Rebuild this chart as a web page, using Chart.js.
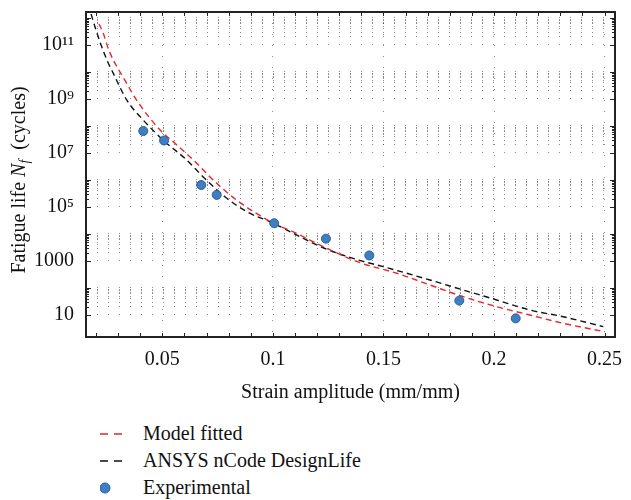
<!DOCTYPE html>
<html>
<head>
<meta charset="utf-8">
<script src="https://cdn.jsdelivr.net/npm/chart.js@4.4.1/dist/chart.umd.min.js"></script>
<style>
    body { margin: 0; background: #fff; }
    #wrap { position: relative; width: 631px; height: 500px; }
    #box { position: absolute; left: 0; top: 0; width: 631px; height: 405px; }
    #legend { position: absolute; left: 100px; top: 420px; list-style: none; margin: 0; padding: 0;
              font: 20px "Liberation Serif", serif; color: #111; }
    #legend li { display: flex; align-items: center; height: 27px; }
    #legend svg { width: 24px; height: 12px; margin-right: 19px; flex: none; }
</style>
</head>
<body>
<div id="wrap">
    <div id="box"><canvas id="fatigueChart"></canvas></div>
    <ul id="legend"></ul>
</div>
<script>
// experimental points
const expStrain = [0.0414, 0.0508, 0.0676, 0.0746, 0.1006, 0.124, 0.1436, 0.1843, 0.2098];
const expLife = [6.5e7, 2.9e7, 6.5e5, 2.8e5, 2.5e4, 6.7e3, 1.6e3, 34, 7.5];

// fitted model curve (red)
const modelStrain = [0.0214, 0.0233, 0.0258, 0.0339, 0.0384, 0.049, 0.0557, 0.064, 0.0746, 0.0836, 0.1002,
    0.1092, 0.1243, 0.1394, 0.156, 0.171, 0.1861, 0.2012, 0.2162, 0.2313, 0.2501];
const modelLife = [6e11, 2.7e11, 6.5e10, 3.8e9, 9e8, 7.1e7, 2.3e7, 5.5e6, 7.5e5, 1.8e5, 2.5e4,
    1.2e4, 2.95e3, 865, 350, 129, 47.6, 20.3, 10, 4.9, 2.4];

// ANSYS nCode DesignLife curve (black)
const ansysStrain = [0.0178, 0.02, 0.0223, 0.0254, 0.0278, 0.0339, 0.0407, 0.0504, 0.061, 0.0685, 0.0783, 0.0882,
    0.1002, 0.1092, 0.1183, 0.1273, 0.1386, 0.1499, 0.171, 0.1861, 0.2012, 0.2162, 0.2313, 0.2494];
const ansysLife = [1.4e12, 3.6e11, 1.0e11, 2.3e10, 9.0e9, 9.2e8, 1.9e8, 3.0e7, 5.5e6, 1.3e6, 2.4e5, 6.7e4,
    2.5e4, 1.06e4, 4.5e3, 2.2e3, 1.09e3, 615, 198, 84, 36, 15.3, 8.6, 3.7];

const xLabelTicks = [0.05, 0.1, 0.15, 0.2, 0.25];
const xMinorTicks = [0.02, 0.03, 0.04, 0.05, 0.06, 0.07, 0.08, 0.09, 0.1, 0.11, 0.12, 0.13, 0.14,
    0.15, 0.16, 0.17, 0.18, 0.19, 0.2, 0.21, 0.22, 0.23, 0.24, 0.25];
const yLabelTicks = [10, 1e3, 1e5, 1e7, 1e9, 1e11];
const yTickLabels = ["10", "1000", "10\u2075", "10\u2077", "10\u2079", "10\u00b9\u00b9"];
const yMinorSteps = [2, 3, 4, 5, 6, 7, 8, 9, 10];

const FONT = '"Liberation Serif", "Times New Roman", serif';
const INK = "#111";
const GRID = "rgba(0, 0, 0, 0.45)";

const yGridValues = yLabelTicks.flatMap((v) => [v, ...yMinorSteps.map((m) => m * v)]);
const toPoints = (xs, ys) => xs.map((x, i) => ({ x, y: ys[i] }));

// box, inward tick marks and the y title with italic N_f
const framePlugin = {
    id: "frame",
    afterDraw(chart) {
        const { ctx, chartArea: a, scales } = chart;
        ctx.save();
        ctx.strokeStyle = "#222";
        ctx.lineWidth = 1;
        ctx.beginPath();
        xMinorTicks.forEach((v) => {
            const px = Math.round(scales.x.getPixelForValue(v)) + 0.5;
            ctx.moveTo(px, a.bottom); ctx.lineTo(px, a.bottom - 4);
            ctx.moveTo(px, a.top); ctx.lineTo(px, a.top + 4);
        });
        yGridValues.forEach((v) => {
            const py = Math.round(scales.y.getPixelForValue(v)) + 0.5;
            if (py < a.top || py > a.bottom) return;
            const len = yLabelTicks.includes(v) || yLabelTicks.includes(v / 10) ? 5 : 3;
            ctx.moveTo(a.left, py); ctx.lineTo(a.left + len, py);
            ctx.moveTo(a.right, py); ctx.lineTo(a.right - len, py);
        });
        ctx.stroke();
        ctx.lineWidth = 2;
        ctx.strokeRect(a.left, a.top, a.right - a.left, a.bottom - a.top);

        // y axis title
        const parts = [
            { t: "Fatigue life ", f: `20px ${FONT}`, dy: 0 },
            { t: "N", f: `italic 20px ${FONT}`, dy: 0 },
            { t: "f", f: `italic 14px ${FONT}`, dy: 5 },
            { t: "  (cycles)", f: `20px ${FONT}`, dy: 0 },
        ];
        let total = 0;
        parts.forEach((p) => { ctx.font = p.f; p.w = ctx.measureText(p.t).width; total += p.w; });
        ctx.translate(20, 180);
        ctx.rotate(-Math.PI / 2);
        ctx.fillStyle = INK;
        ctx.textBaseline = "middle";
        let x = -total / 2;
        parts.forEach((p) => { ctx.font = p.f; ctx.fillText(p.t, x, p.dy); x += p.w; });
        ctx.restore();
    },
};

const ctx = document.getElementById("fatigueChart").getContext("2d");
const chart = new Chart(ctx, {
    type: "line",
    data: {
        datasets: [
            {
                label: "Model fitted",
                data: toPoints(modelStrain, modelLife),
                borderColor: "#e8262b",
                borderWidth: 1.4,
                borderDash: [6, 4],
                pointRadius: 0,
                cubicInterpolationMode: "monotone",
            },
            {
                label: "ANSYS nCode DesignLife",
                data: toPoints(ansysStrain, ansysLife),
                borderColor: "#111",
                borderWidth: 1.4,
                borderDash: [6, 4],
                pointRadius: 0,
                cubicInterpolationMode: "monotone",
            },
            {
                label: "Experimental",
                data: toPoints(expStrain, expLife),
                showLine: false,
                pointRadius: 4.5,
                pointBackgroundColor: "#3f7fc1",
                pointBorderColor: "#285f9c",
                pointBorderWidth: 1,
                order: -1,
            },
        ],
    },
    options: {
        responsive: true,
        maintainAspectRatio: false,
        animation: false,
        layout: { padding: { left: 0, top: 12, right: 16, bottom: 0 } },
        plugins: { legend: { display: false }, tooltip: { enabled: false } },
        scales: {
            x: {
                type: "linear",
                min: 0.0155,
                max: 0.2547,
                afterBuildTicks: (scale) => { scale.ticks = xMinorTicks.map((value) => ({ value })); },
                afterFit: (scale) => {
                    scale.height = 68;
                    scale.paddingLeft = 0;
                    scale.paddingRight = 0;
                },
                grid: {
                    color: (c) => (c.tick && xLabelTicks.includes(c.tick.value) ? GRID : "transparent"),
                    drawTicks: false,
                    lineWidth: 1,
                },
                border: { display: false, dash: [1, 10] },
                ticks: {
                    autoSkip: false,
                    maxRotation: 0,
                    padding: 11,
                    color: INK,
                    font: { family: FONT, size: 20 },
                    callback: (v) => (xLabelTicks.includes(v) ? String(v) : ""),
                },
                title: {
                    display: true,
                    text: "Strain amplitude (mm/mm)",
                    color: INK,
                    font: { family: FONT, size: 20 },
                    padding: { top: 4, bottom: 0 },
                },
            },
            y: {
                type: "logarithmic",
                min: 1.53,
                max: 1.66e12,
                afterBuildTicks: (scale) => { scale.ticks = yGridValues.map((value) => ({ value })); },
                afterFit: (scale) => {
                    scale.width = 86;
                    scale.paddingTop = 0;
                    scale.paddingBottom = 0;
                },
                grid: { color: GRID, drawTicks: false, lineWidth: 1 },
                border: { display: false, dash: [1, 10] },
                ticks: {
                    autoSkip: false,
                    padding: 12,
                    color: INK,
                    font: { family: FONT, size: 20 },
                    callback: (v) => {
                        const i = yLabelTicks.indexOf(v);
                        return i >= 0 ? yTickLabels[i] : "";
                    },
                },
            },
        },
    },
    plugins: [framePlugin],
});

// legend as a vertical list under the chart
const legendList = document.getElementById("legend");
chart.data.datasets.forEach((ds) => {
    const item = document.createElement("li");
    const swatch = ds.showLine === false
        ? `<circle cx="5" cy="6" r="5" fill="${ds.pointBackgroundColor}" stroke="${ds.pointBorderColor}" stroke-width="1"/>`
        : `<line x1="0" y1="6" x2="22" y2="6" stroke="${ds.borderColor}" stroke-width="1.4" stroke-dasharray="8 6"/>`;
    item.innerHTML = `<svg viewBox="0 0 24 12">${swatch}</svg><span>${ds.label}</span>`;
    legendList.appendChild(item);
});
</script>
</body>
</html>
